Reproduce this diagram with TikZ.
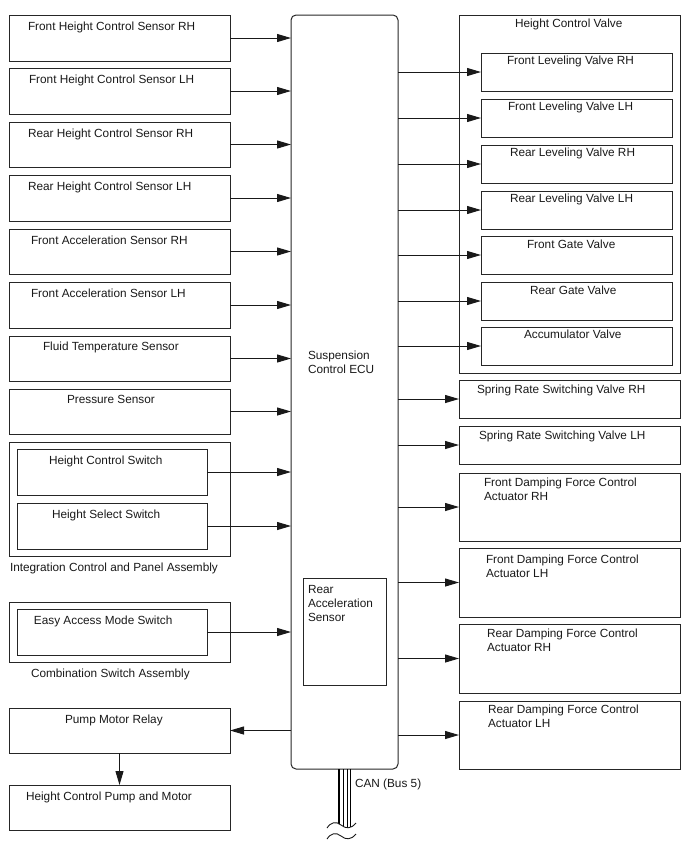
\documentclass[tikz,border=0pt]{standalone}
\usepackage{fontspec}
\setmainfont{Liberation Sans}
\usetikzlibrary{arrows.meta}
\tikzset{
  box/.style={draw=black!85, line width=1pt, rectangle, inner sep=0pt, outer sep=0pt},
  ecubox/.style={box, rounded corners=5pt},
  lbl/.style={inner sep=0pt, outer sep=0pt, font=\fontsize{11.8}{13.8}\selectfont, text=black!90, align=left},
  arr/.style={line width=1pt, draw=black!90, -{Triangle[length=14pt,width=8pt]}},
  bus/.style={line width=1.4pt, draw=black},
  busthin/.style={line width=0.6pt, draw=black},
  wave/.style={line width=0.9pt, draw=black!90}
}
\newcommand{\mkbox}[6][box]{\node[#1, minimum width={(#5-#3)*1pt}, minimum height={(#6-#4)*1pt}] (#2) at ({(#3+#5)/2},{(#4+#6)/2}) {};}
\begin{document}
\begin{tikzpicture}[x=1pt,y=-1pt]
\useasboundingbox (0,0) rectangle (688,852);
% left column
\mkbox{s1}{9}{15}{230}{61}
\mkbox{s2}{9}{68}{230}{114}
\mkbox{s3}{9}{122}{230}{167}
\mkbox{s4}{9}{175}{230}{221}
\mkbox{s5}{9}{229}{230}{274}
\mkbox{s6}{9}{282}{230}{328}
\mkbox{s7}{9}{336}{230}{381}
\mkbox{s8}{9}{389}{230}{434}
\mkbox{grp1}{9}{442}{230}{556}
\mkbox{sw1}{17}{449}{207}{495}
\mkbox{sw2}{17}{503}{207}{549}
\mkbox{grp2}{9}{602}{230}{662}
\mkbox{sw3}{17}{609}{207}{655}
\mkbox{relay}{9}{708}{230}{753}
\mkbox{pump}{9}{785}{230}{830}
% ECU
\mkbox[ecubox]{ecu}{291}{15}{398}{769}
\mkbox{ras}{303}{578}{386}{685}
% right column
\mkbox{hcv}{459}{15}{680}{373}
\mkbox{v1}{481}{53}{672}{91}
\mkbox{v2}{481}{99}{672}{137}
\mkbox{v3}{481}{145}{672}{183}
\mkbox{v4}{481}{191}{672}{229}
\mkbox{v5}{481}{236}{672}{274}
\mkbox{v6}{481}{282}{672}{320}
\mkbox{v7}{481}{327}{672}{365}
\mkbox{sr1}{459}{380}{680}{418}
\mkbox{sr2}{459}{426}{680}{464}
\mkbox{d1}{459}{473}{680}{541}
\mkbox{d2}{459}{548}{680}{617}
\mkbox{d3}{459}{624}{680}{693}
\mkbox{d4}{459}{701}{680}{769}
% labels
\node[lbl, anchor=base west] (t1) at (28,30) {Front Height Control Sensor RH};
\node[lbl, anchor=base west] (t2) at (29,83) {Front Height Control Sensor LH};
\node[lbl, anchor=base west] (t3) at (28,137) {Rear Height Control Sensor RH};
\node[lbl, anchor=base west] (t4) at (28,190) {Rear Height Control Sensor LH};
\node[lbl, anchor=base west] (t5) at (31,244) {Front Acceleration Sensor RH};
\node[lbl, anchor=base west] (t6) at (31,297) {Front Acceleration Sensor LH};
\node[lbl, anchor=base west] (t7) at (43,350) {Fluid Temperature Sensor};
\node[lbl, anchor=base west] (t8) at (67,403) {Pressure Sensor};
\node[lbl, anchor=base west] (t9) at (49,464) {Height Control Switch};
\node[lbl, anchor=base west] (t10) at (52,518) {Height Select Switch};
\node[lbl, anchor=base west] (t11) at (10,571) {Integration Control and Panel Assembly};
\node[lbl, anchor=base west] (t12) at (34,624) {Easy Access Mode Switch};
\node[lbl, anchor=base west] (t13) at (31,677) {Combination Switch Assembly};
\node[lbl, anchor=base west] (t14) at (65,723) {Pump Motor Relay};
\node[lbl, anchor=base west] (t15) at (26,800) {Height Control Pump and Motor};
\node[lbl, anchor=base west] (te1) at (308,359) {Suspension};
\node[lbl, anchor=base west] (te2) at (308,373) {Control ECU};
\node[lbl, anchor=base west] (tr1) at (308,593) {Rear};
\node[lbl, anchor=base west] (tr2) at (308,607) {Acceleration};
\node[lbl, anchor=base west] (tr3) at (308,621) {Sensor};
\node[lbl, anchor=base west] (th) at (515,27) {Height Control Valve};
\node[lbl, anchor=base west] (tv1) at (507,64) {Front Leveling Valve RH};
\node[lbl, anchor=base west] (tv2) at (508,110) {Front Leveling Valve LH};
\node[lbl, anchor=base west] (tv3) at (510,156) {Rear Leveling Valve RH};
\node[lbl, anchor=base west] (tv4) at (510,202) {Rear Leveling Valve LH};
\node[lbl, anchor=base west] (tv5) at (527,248) {Front Gate Valve};
\node[lbl, anchor=base west] (tv6) at (530,294) {Rear Gate Valve};
\node[lbl, anchor=base west] (tv7) at (524,338) {Accumulator Valve};
\node[lbl, anchor=base west] (tsr1) at (477,393) {Spring Rate Switching Valve RH};
\node[lbl, anchor=base west] (tsr2) at (479,439) {Spring Rate Switching Valve LH};
\node[lbl, anchor=base west] (td1a) at (484,486) {Front Damping Force Control};
\node[lbl, anchor=base west] (td1b) at (484,500) {Actuator RH};
\node[lbl, anchor=base west] (td2a) at (486,563) {Front Damping Force Control};
\node[lbl, anchor=base west] (td2b) at (486,577) {Actuator LH};
\node[lbl, anchor=base west] (td3a) at (487,637) {Rear Damping Force Control};
\node[lbl, anchor=base west] (td3b) at (487,651) {Actuator RH};
\node[lbl, anchor=base west] (td4a) at (488,713) {Rear Damping Force Control};
\node[lbl, anchor=base west] (td4b) at (488,727) {Actuator LH};
\node[lbl, anchor=base west] (tcan) at (355,787) {CAN (Bus 5)};
% input arrows
\foreach \n in {s1,s2,s3,s4,s5,s6,s7,s8,sw1,sw2,sw3}
  \draw[arr] (\n.east) -- (\n.east -| ecu.west);
% output arrows
\foreach \n in {v1,v2,v3,v4,v5,v6,v7,sr1,sr2,d1,d2,d3,d4}
  \draw[arr] (\n.west -| ecu.east) -- (\n.west);
\draw[arr] (relay.east -| ecu.west) -- (relay.east);
\draw[arr] (relay.south) -- (pump.north);
% CAN bus
\coordinate (c1) at (339,824);
\coordinate (c2) at (343.5,826);
\coordinate (c3) at (347,827);
\coordinate (c4) at (350.5,827);
\draw[bus] (ecu.south -| c1) -- (c1);
\draw[busthin] (ecu.south -| c2) -- (c2);
\draw[busthin] (ecu.south -| c3) -- (c3);
\draw[bus] (ecu.south -| c4) -- (c4);
\draw[wave] (327,828) .. controls (331,822) and (336,821) .. (341,825) .. controls (346,829) and (351,829) .. (356,823);
\draw[wave] (327,839) .. controls (331,833) and (336,832) .. (341,836) .. controls (346,840) and (351,840) .. (356,834);
\end{tikzpicture}
\end{document}
